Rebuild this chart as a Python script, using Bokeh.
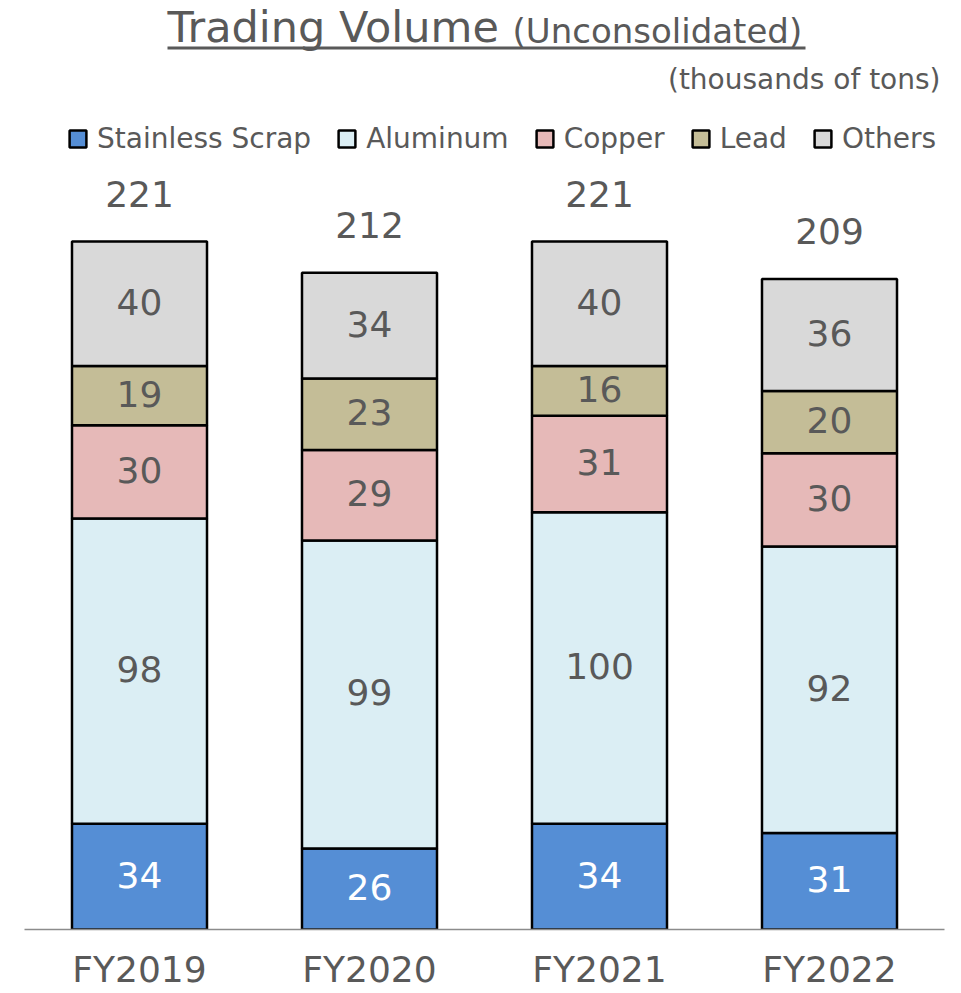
from bokeh.plotting import figure
from bokeh.models import (ColumnDataSource, FactorRange, Range1d, Label, Legend,
                          LegendItem, BoxAnnotation)
from bokeh.embed import file_html
from bokeh.resources import INLINE
from bokeh.core.properties import value

# ---------------- data ----------------
categories = ["FY2019", "FY2020", "FY2021", "FY2022"]
series_names = ["Stainless Scrap", "Aluminum", "Copper", "Lead", "Others"]
stainless = [34, 26, 34, 31]
aluminum = [98, 99, 100, 92]
copper = [30, 29, 31, 30]
lead = [19, 23, 16, 20]
others = [40, 34, 40, 36]
totals = [221, 212, 221, 209]

# ---------------- style ----------------
colors = ["#558ED5", "#DBEEF4", "#E6B9B8", "#C4BD97", "#D9D9D9"]
label_colors = ["white", "#595959", "#595959", "#595959", "#595959"]
GRAY = "#595959"
FONT = "DejaVu Sans"

PAGE_OFFSET = 0
W, H = 961, 993
BORDER_L, BORDER_R, BORDER_T, BORDER_B = 24, 17, 0, 64
FRAME_H = H - BORDER_T - BORDER_B
PX_PER_UNIT = 3.113
PAGE_FRAME_LEFT = PAGE_OFFSET + BORDER_L
PAGE_FRAME_BOTTOM = PAGE_OFFSET + BORDER_T + FRAME_H
UNIT_W = (W - BORDER_L - BORDER_R) / len(categories)


def X(page_x):
    return (page_x - PAGE_FRAME_LEFT) / UNIT_W


def Y(page_y):
    return (PAGE_FRAME_BOTTOM - page_y) / PX_PER_UNIT


p = figure(x_range=FactorRange(*categories),
           y_range=Range1d(0, FRAME_H / PX_PER_UNIT),
           width=W, height=H, output_backend="svg", toolbar_location=None,
           min_border_left=BORDER_L, min_border_right=BORDER_R,
           min_border_top=BORDER_T, min_border_bottom=BORDER_B,
           background_fill_color="white", border_fill_color="white")
p.outline_line_color = None
p.grid.visible = False
p.yaxis.visible = False

keys = ["s0", "s1", "s2", "s3", "s4"]
all_series = [stainless, aluminum, copper, lead, others]
data = dict(cat=categories)
for k, vals in zip(keys, all_series):
    data[k] = vals
source = ColumnDataSource(data)

renderers = p.vbar_stack(keys, x="cat", width=0.587, source=source,
                         fill_color=colors, line_color="black", line_width=2.5)

# segment labels
seg_x, seg_y, seg_t, seg_c = [], [], [], []
for i, cat in enumerate(categories):
    base = 0
    for j, ser in enumerate(all_series):
        v = ser[i]
        seg_x.append(cat)
        seg_y.append(base + v / 2)
        seg_t.append(str(v))
        seg_c.append(label_colors[j])
        base += v
p.text(x="cat", y="y", text="t", text_color="c",
       source=ColumnDataSource(dict(cat=seg_x, y=seg_y, t=seg_t, c=seg_c)),
       text_font=value(FONT), text_font_size="36px",
       text_align="center", text_baseline="middle", y_offset=-2)

# totals
stack_tops = [sum(s[i] for s in all_series) for i in range(len(categories))]
p.text(x="cat", y="y", text="t",
       source=ColumnDataSource(dict(cat=categories, y=stack_tops,
                                    t=[str(t) for t in totals])),
       text_font=value(FONT), text_font_size="36px", text_color=GRAY,
       text_align="center", text_baseline="middle", y_offset=-48)

# x axis
ax = p.xaxis[0]
ax.axis_line_color = "#8c8c8c"
ax.axis_line_width = 1.5
ax.major_tick_line_color = None
ax.minor_tick_line_color = None
ax.major_label_text_font = FONT
ax.major_label_text_font_size = "36px"
ax.major_label_text_color = GRAY
ax.major_label_standoff = 13

# title
p.add_layout(Label(x=X(167), y=Y(26), text="Trading Volume",
                   text_font=FONT, text_font_size="43px", text_color=GRAY,
                   text_align="left", text_baseline="middle"))
p.add_layout(Label(x=X(512), y=Y(30), text="(Unconsolidated)",
                   text_font=FONT, text_font_size="34px", text_color=GRAY,
                   text_align="left", text_baseline="middle"))
p.add_layout(BoxAnnotation(left=X(167), right=X(805), top=Y(46), bottom=Y(49),
                           fill_color=GRAY, fill_alpha=1, line_alpha=0))
p.add_layout(Label(x=X(940), y=Y(79), text="(thousands of tons)",
                   text_font=FONT, text_font_size="28px", text_color=GRAY,
                   text_align="right", text_baseline="middle"))

# legend (location = bottom-left corner of the legend box)
legend = Legend(items=[LegendItem(label=n, renderers=[r])
                       for n, r in zip(series_names, renderers)],
                orientation="horizontal",
                location=(67 - PAGE_FRAME_LEFT, PAGE_FRAME_BOTTOM - 155),
                glyph_width=21, glyph_height=21, label_standoff=9, spacing=25,
                padding=0, margin=0, border_line_alpha=0,
                background_fill_alpha=0,
                label_text_font=FONT, label_text_font_size="28px",
                label_text_color=GRAY)
p.add_layout(legend)

open("out.html", "w").write(file_html(p, INLINE))
